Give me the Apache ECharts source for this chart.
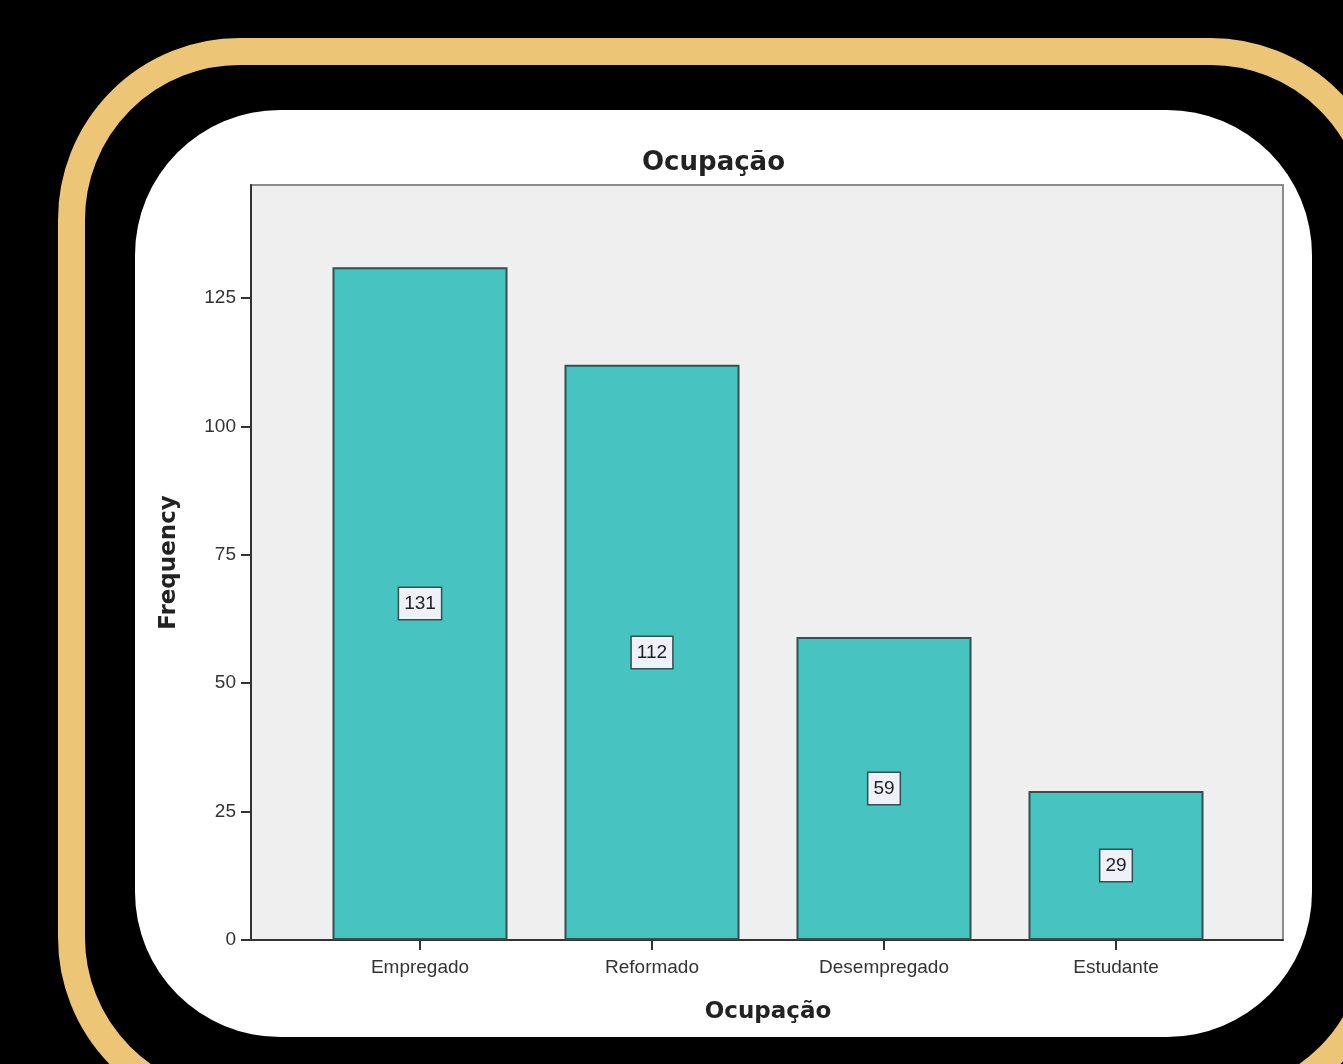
<!DOCTYPE html>
<html>
<head>
<meta charset="utf-8">
<title>Ocupação</title>
<script src="https://cdn.jsdelivr.net/npm/echarts@6/dist/echarts.min.js"></script>
<style>
  html, body { margin: 0; padding: 0; background: #000; }
  #chart { width: 1343px; height: 1064px; }
</style>
</head>
<body>
<div id="chart"></div>
<script>
// Frequency of each occupation group
const categories = ['Empregado', 'Reformado', 'Desempregado', 'Estudante'];
const frequencies = [131, 112, 59, 29];
const yTicks = [0, 25, 50, 75, 100, 125];
const yMax = 147;

const titleText = 'Ocupação';
const xAxisTitle = 'Ocupação';
const yAxisTitle = 'Frequency';

const tickFont = 'Liberation Sans, Arial, sans-serif';
const boldFont = 'DejaVu Sans, Verdana, sans-serif';

const chart = echarts.init(document.getElementById('chart'), null, { renderer: 'canvas' });

chart.setOption({
  backgroundColor: '#000000',
  animation: false,
  graphic: [
    {
      // gold rounded frame
      type: 'rect',
      z: -20,
      silent: true,
      shape: { x: 71.5, y: 51.5, width: 1307, height: 1054, r: 168 },
      style: { fill: 'none', stroke: '#ecc577', lineWidth: 27 }
    },
    {
      // white card behind the chart
      type: 'rect',
      z: -10,
      silent: true,
      shape: { x: 135, y: 110, width: 1177, height: 927, r: 145 },
      style: { fill: '#ffffff' }
    }
  ],
  title: {
    text: titleText,
    left: 642,
    top: 150,
    padding: 0,
    textStyle: { fontFamily: boldFont, fontWeight: 'bold', fontSize: 26, color: '#222' }
  },
  grid: [
    {
      // plot frame with grey background
      left: 251, right: 60, top: 185, bottom: 124,
      show: true,
      backgroundColor: '#efefef',
      borderColor: '#8c8c8c',
      borderWidth: 2
    },
    {
      // inner band holding the bars
      left: 304, right: 111, top: 185, bottom: 124,
      show: false
    }
  ],
  xAxis: [
    {
      gridIndex: 0,
      type: 'value',
      min: 0, max: 1,
      axisLine: { show: true, lineStyle: { color: '#333', width: 2 } },
      axisTick: { show: false },
      axisLabel: { show: false },
      splitLine: { show: false }
    },
    {
      gridIndex: 1,
      type: 'category',
      data: categories,
      axisLine: { show: false },
      axisTick: { show: true, alignWithLabel: true, length: 10, lineStyle: { color: '#333', width: 2 } },
      axisLabel: { fontFamily: tickFont, fontSize: 19, color: '#333', margin: 18 },
      splitLine: { show: false },
      name: xAxisTitle,
      nameLocation: 'middle',
      nameGap: 61,
      nameTextStyle: { fontFamily: boldFont, fontWeight: 'bold', fontSize: 23, color: '#222' }
    }
  ],
  yAxis: [
    {
      gridIndex: 0,
      type: 'value',
      min: 0, max: yMax,
      axisLine: { show: true, lineStyle: { color: '#333', width: 2 } },
      axisTick: { show: true, length: 10, customValues: yTicks, lineStyle: { color: '#333', width: 2 } },
      axisLabel: { customValues: yTicks, fontFamily: tickFont, fontSize: 19, color: '#333', margin: 15 },
      splitLine: { show: false },
      name: yAxisTitle,
      nameLocation: 'middle',
      nameRotate: 90,
      nameGap: 70,
      nameTextStyle: { fontFamily: boldFont, fontWeight: 'bold', fontSize: 23, color: '#222' }
    },
    {
      gridIndex: 1,
      type: 'value',
      min: 0, max: yMax,
      show: false
    }
  ],
  series: [
    {
      type: 'bar',
      xAxisIndex: 1,
      yAxisIndex: 1,
      data: frequencies,
      barWidth: 175,
      itemStyle: { color: '#47c3c2', borderColor: '#33504f', borderWidth: 2 },
      label: {
        show: true,
        position: 'inside',
        formatter: '{c}',
        fontFamily: tickFont,
        fontSize: 19,
        lineHeight: 21,
        color: '#222',
        backgroundColor: '#eef2f8',
        borderColor: '#33504f',
        borderWidth: 1.5,
        padding: [5, 5, 5, 5]
      }
    }
  ]
});
</script>
</body>
</html>
